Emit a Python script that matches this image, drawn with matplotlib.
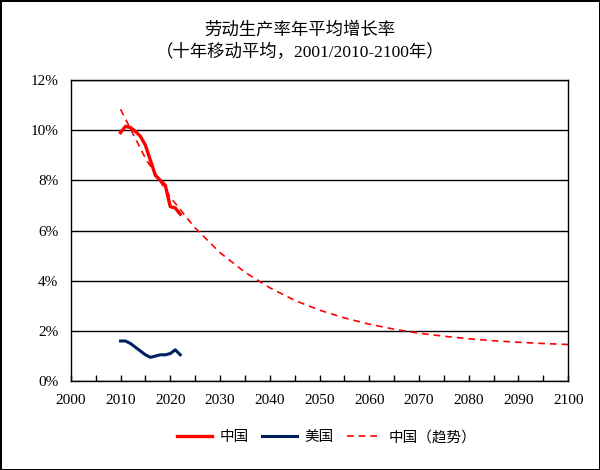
import numpy as np
import matplotlib.pyplot as plt
from matplotlib.ticker import MultipleLocator, FuncFormatter

FONT = ['Liberation Serif', 'Noto Sans CJK SC']

years = list(range(2010, 2023))
china = [9.9, 10.15, 10.1, 9.95, 9.75, 9.4, 8.8, 8.2, 8.0, 7.8, 6.95, 6.9, 6.65]
usa = [1.6, 1.6, 1.5, 1.35, 1.2, 1.05, 0.95, 1.0, 1.05, 1.05, 1.1, 1.25, 1.05]

trend_years = list(range(2010, 2101, 5))
trend = [10.83, 8.88, 7.33, 6.10, 5.12, 4.34, 3.72, 3.22, 2.83, 2.52,
         2.27, 2.07, 1.91, 1.79, 1.69, 1.61, 1.55, 1.50, 1.46]

title1 = "劳动生产率年平均增长率"
title2 = "（十年移动平均，2001/2010-2100年）"

fig = plt.figure(figsize=(6, 4.7), dpi=100, edgecolor='black', linewidth=2)
ax = fig.add_axes([0.118, 0.189, 0.829, 0.641])

ax.plot(years, china, color='#FF0000', lw=2.4, label='中国', solid_joinstyle='round')
ax.plot(years, usa, color='#002060', lw=2.2, label='美国', solid_joinstyle='round')
ax.plot(trend_years, trend, color='#FF0000', lw=1.2, ls=(0, (4, 3)), label='中国（趋势）')

ax.set_xlim(2000, 2100)
ax.set_ylim(0, 12)
ax.xaxis.set_major_locator(MultipleLocator(10))
ax.xaxis.set_minor_locator(MultipleLocator(5))
ax.yaxis.set_major_locator(MultipleLocator(2))
ax.yaxis.set_major_formatter(FuncFormatter(lambda v, p: f"{v:.0f}%"))
ax.grid(axis='y', color='black', lw=1.0)
ax.set_axisbelow(True)
ax.tick_params(axis='x', which='both', direction='in', length=4, width=1, pad=9)
ax.tick_params(axis='y', length=0, pad=9)
for s in ax.spines.values():
    s.set_linewidth(1.0)
    s.set_color('black')
for lab in ax.get_xticklabels() + ax.get_yticklabels():
    lab.set_family(FONT)
    lab.set_fontsize(11)

fig.text(0.5, 0.936, title1, ha='center', va='center', fontsize=12.5, family=FONT)
fig.text(0.5, 0.889, title2, ha='center', va='center', fontsize=12.5, family=FONT)

leg = fig.legend(loc='center', bbox_to_anchor=(0.545, 0.07), ncol=3, frameon=False,
                 prop={'family': FONT, 'size': 10.5}, handlelength=2.4,
                 columnspacing=0.9, handletextpad=0.5)

fig.savefig('out.png', dpi=100, edgecolor=fig.get_edgecolor())
